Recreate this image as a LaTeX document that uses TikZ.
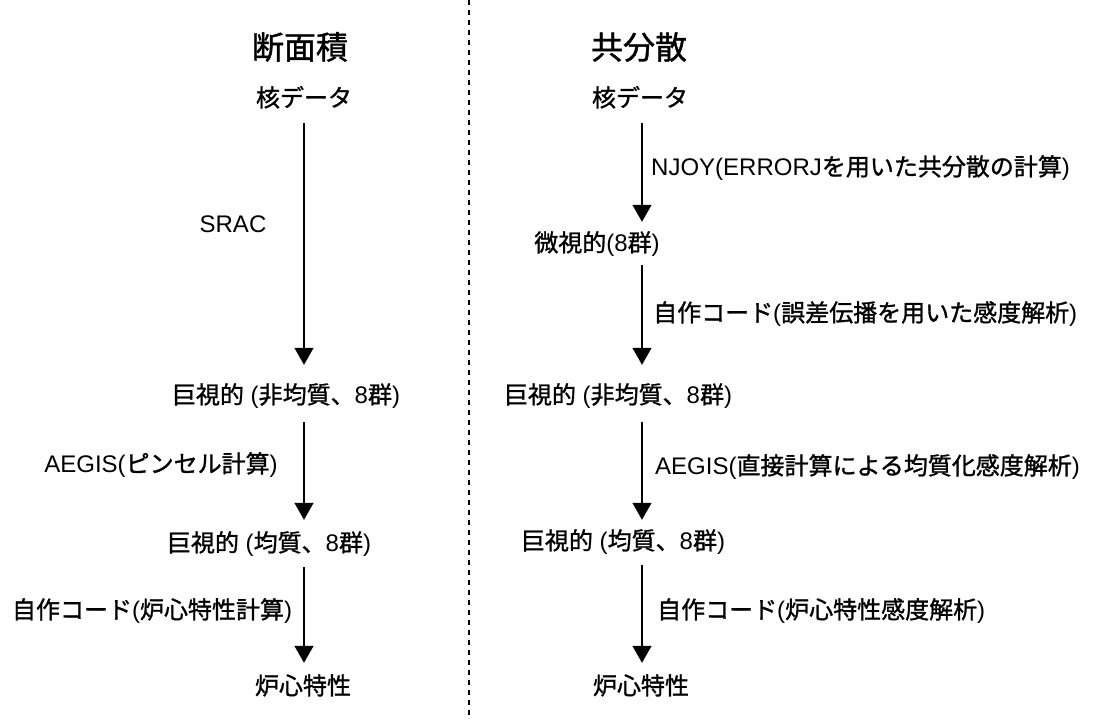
\documentclass[tikz,border=0pt]{standalone}
\usepackage{fontspec}
\setmainfont{Liberation Sans}
\newfontfamily\jpfont[FakeBold=1.2]{Noto Sans CJK JP}
\newcommand{\J}[1]{{\jpfont #1}}
\usetikzlibrary{arrows.meta}
\begin{document}
\begin{tikzpicture}[x=1pt,y=-1pt,
  lbl/.style={inner sep=0pt,font=\fontsize{24}{26}\selectfont,text height=18pt,text depth=5pt},
  ttl/.style={inner sep=0pt,font=\fontsize{32}{34}\selectfont},
  arr/.style={line width=1.3pt,-{Triangle[width=19pt,length=17pt]}},
  sep/.style={line width=1.3pt,dash pattern=on 5pt off 5pt}]
\useasboundingbox (0,0) rectangle (1107,718);
% separator
\coordinate (st) at (469,0);
\coordinate (sb) at (469,718);
\draw[sep] (st) -- (sb);
% arrow columns
\coordinate (lx) at (304,0);
\coordinate (rx) at (642,0);
% left column
\node[ttl] (T1) at (300,47) {\J{断面積}};
\node[lbl] (L1) at (304,100) {\J{核データ}};
\node[lbl] (L2) at (286,397) {\J{巨視的} (\J{非均質、}8\J{群})};
\node[lbl] (L3) at (269,545) {\J{巨視的} (\J{均質、}8\J{群})};
\node[lbl] (L4) at (303,688) {\J{炉心特性}};
\node[lbl] (S1) at (233,226) {SRAC};
\node[lbl] (S2) at (161,466) {AEGIS(\J{ピンセル計算})};
\node[lbl] (S3) at (152,612) {\J{自作コード}(\J{炉心特性計算})};
\draw[arr,shorten <=11.5pt,shorten >=20.5pt] (L1.south -| lx) -- (L2.north -| lx);
\draw[arr,shorten <=13.5pt,shorten >=13.5pt] (L2.south -| lx) -- (L3.north -| lx);
\draw[arr,shorten <=10.5pt,shorten >=13.5pt] (L3.south -| lx) -- (L4.north -| lx);
% right column
\node[ttl] (T2) at (639,47) {\J{共分散}};
\node[lbl] (R1) at (640,100) {\J{核データ}};
\node[lbl] (R2) at (597,245) {\J{微視的}(8\J{群})};
\node[lbl] (R3) at (618,397) {\J{巨視的} (\J{非均質、}8\J{群})};
\node[lbl] (R4) at (623,543) {\J{巨視的} (\J{均質、}8\J{群})};
\node[lbl] (R5) at (641,688) {\J{炉心特性}};
\node[lbl,anchor=west] (P1) at (651,169) {NJOY(ERRORJ\J{を用いた共分散の計算})};
\node[lbl,anchor=west] (P2) at (653,315) {\J{自作コード}(\J{誤差伝播を用いた感度解析})};
\node[lbl,anchor=west] (P3) at (655,468) {AEGIS(\J{直接計算による均質化感度解析})};
\node[lbl,anchor=west] (P4) at (657,612) {\J{自作コード}(\J{炉心特性感度解析})};
\draw[arr,shorten <=11.5pt,shorten >=11.5pt] (R1.south -| rx) -- (R2.north -| rx);
\draw[arr,shorten <=8.5pt,shorten >=20.5pt] (R2.south -| rx) -- (R3.north -| rx);
\draw[arr,shorten <=13.5pt,shorten >=11.5pt] (R3.south -| rx) -- (R4.north -| rx);
\draw[arr,shorten <=10.5pt,shorten >=13.5pt] (R4.south -| rx) -- (R5.north -| rx);
\end{tikzpicture}
\end{document}
